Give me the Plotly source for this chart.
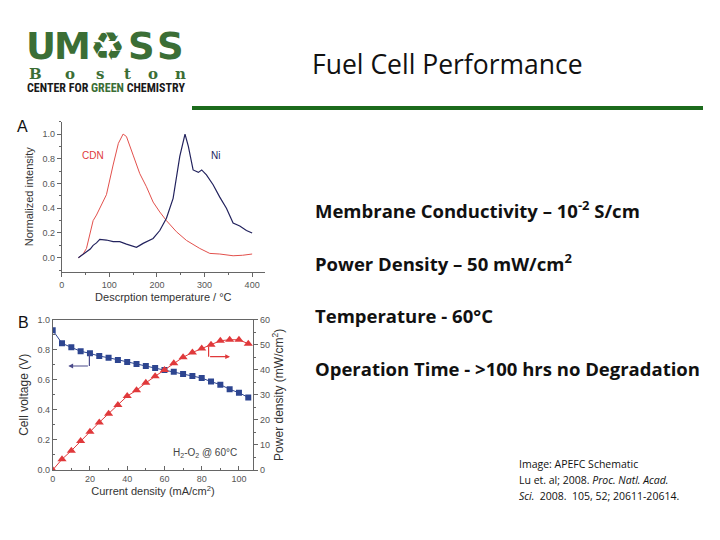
import plotly.graph_objects as go

# ---------------- Data: chart A (TPD) ----------------
cdn_temp = [35, 45, 52, 60, 66, 73, 80, 94, 108, 119, 129, 136, 150, 164, 178, 192, 206, 220, 241, 262, 290, 311, 332, 360, 380, 400]
cdn_int = [0.0, 0.03, 0.075, 0.2, 0.30, 0.345, 0.40, 0.51, 0.75, 0.925, 1.0, 0.98, 0.83, 0.68, 0.574, 0.45, 0.37, 0.30, 0.21, 0.14, 0.075, 0.035, 0.03, 0.016, 0.02, 0.03]
ni_temp = [35, 45, 52, 60, 66, 73, 80, 94, 108, 122, 136, 150, 157, 164, 171, 192, 206, 220, 234, 248, 255, 259, 266, 276, 287, 294, 304, 318, 332, 346, 360, 374, 388, 400]
ni_int = [0.0, 0.03, 0.05, 0.07, 0.10, 0.12, 0.148, 0.143, 0.13, 0.13, 0.11, 0.095, 0.084, 0.10, 0.116, 0.156, 0.22, 0.32, 0.48, 0.82, 0.95, 1.0, 0.90, 0.71, 0.69, 0.71, 0.67, 0.59, 0.49, 0.40, 0.28, 0.256, 0.22, 0.20]

# ---------------- Data: chart B (polarization) ----------------
current = [0, 5, 10, 15, 20, 25, 30, 35, 40, 45, 50, 55, 60, 65, 70, 75, 80, 85, 90, 95, 100, 105]
voltage = [0.93, 0.843, 0.816, 0.79, 0.776, 0.758, 0.747, 0.732, 0.718, 0.705, 0.692, 0.678, 0.665, 0.654, 0.639, 0.625, 0.612, 0.588, 0.568, 0.537, 0.514, 0.483]
power = [0, 4.3, 7.7, 11.6, 15.3, 19.0, 22.5, 25.9, 29.5, 31.8, 34.8, 37.4, 39.9, 42.6, 45.0, 46.9, 48.5, 50.0, 51.6, 52.0, 52.0, 50.4]

# ---------------- Slide text ----------------
title_text = "Fuel Cell Performance"
bullets = [
    "Membrane Conductivity – 10<sup>-2</sup> S/cm",
    "Power Density – 50 mW/cm<sup>2</sup>",
    "Temperature - 60°C",
    "Operation Time - >100 hrs no Degradation",
]
citation = [
    "Image: APEFC Schematic",
    "Lu et. al; 2008. <i>Proc. Natl. Acad.</i>",
    "<i>Sci.</i>  2008.  105, 52; 20611-20614.",
]
logo_letters = ["U", "M", "♻", "S", "S"]
logo_city = list("Boston")

W, H = 720, 540
OFF = 8  # page body margin offset
def px(x):
    return (x - OFF) / W
def py(y):
    return 1 - (y - OFF) / H

fig = go.Figure()

RED = "#e0393b"
NAVY = "#23235e"
BLUE = "#2d4590"

fig.add_trace(go.Scatter(x=cdn_temp, y=cdn_int, mode="lines", line=dict(color="#e2504c", width=1),
                         xaxis="x", yaxis="y", showlegend=False))
fig.add_trace(go.Scatter(x=ni_temp, y=ni_int, mode="lines", line=dict(color=NAVY, width=1.2),
                         xaxis="x", yaxis="y", showlegend=False))

fig.add_trace(go.Scatter(x=current, y=voltage, mode="lines+markers", line=dict(color=BLUE, width=1),
                         marker=dict(symbol="square", size=6, color=BLUE),
                         xaxis="x2", yaxis="y2", showlegend=False))
fig.add_trace(go.Scatter(x=current, y=power, mode="lines+markers", line=dict(color=RED, width=1),
                         marker=dict(symbol="triangle-up", size=8, color=RED),
                         xaxis="x2", yaxis="y3", showlegend=False))

tickfont = dict(family="Liberation Sans, Arial", size=9, color="#555")
titlefont = dict(family="Liberation Sans, Arial", size=11, color="#333")
axcol = "#666"

fig.update_layout(
    width=W, height=H, margin=dict(l=0, r=0, t=0, b=0, pad=0, autoexpand=False),
    paper_bgcolor="white", plot_bgcolor="white",
    xaxis=dict(domain=[px(61.7), px(265)], range=[0, 427], tickvals=[0, 100, 200, 300, 400],
               ticktext=["0", "100", "200", "300", "400"], automargin=False,
               showgrid=False, zeroline=False, showline=True, linecolor=axcol, linewidth=1,
               ticks="outside", ticklen=4, tickcolor=axcol, tickfont=tickfont,
               minor=dict(dtick=50, ticks="outside", ticklen=2, tickcolor=axcol),
               title=dict(text="Descrption temperature / °C", font=titlefont, standoff=4), anchor="y"),
    yaxis=dict(domain=[py(271.7), py(121.7)], range=[-0.113, 1.10], tickvals=[0, 0.2, 0.4, 0.6, 0.8, 1.0],
               tickformat=".1f", automargin=False,
               showgrid=False, zeroline=False, showline=True, linecolor=axcol, linewidth=1,
               ticks="outside", ticklen=4, tickcolor=axcol, tickfont=tickfont,
               minor=dict(dtick=0.1, ticks="outside", ticklen=2, tickcolor=axcol),
               title=dict(text="Normalized intensity", font=titlefont, standoff=6), anchor="x"),
    xaxis2=dict(domain=[px(52.7), px(253.3)], range=[0, 107.7], tickvals=[0, 20, 40, 60, 80, 100],
                automargin=False,
                showgrid=False, zeroline=False, showline=True, mirror=True, linecolor=axcol, linewidth=1,
                ticks="inside", ticklen=4, tickcolor=axcol, tickfont=tickfont,
                minor=dict(dtick=10, ticks="inside", ticklen=2, tickcolor=axcol),
                title=dict(text="Current density (mA/cm<sup>2</sup>)", font=titlefont, standoff=4), anchor="y2"),
    yaxis2=dict(domain=[py(470), py(319.7)], range=[0, 1.0], tickvals=[0, 0.2, 0.4, 0.6, 0.8, 1.0],
                tickformat=".1f", automargin=False,
                showgrid=False, zeroline=False, showline=True, linecolor=axcol, linewidth=1,
                ticks="inside", ticklen=4, tickcolor=axcol, tickfont=tickfont,
                minor=dict(dtick=0.1, ticks="inside", ticklen=2, tickcolor=axcol),
                title=dict(text="Cell voltage (V)", font=dict(family="Liberation Sans, Arial", size=12, color="#333"), standoff=6),
                anchor="x2"),
    yaxis3=dict(range=[0, 60], overlaying="y2", side="right", tickvals=[0, 10, 20, 30, 40, 50, 60],
                automargin=False,
                showgrid=False, zeroline=False, showline=True, linecolor=axcol, linewidth=1,
                ticks="outside", ticklen=4, tickcolor=axcol, tickfont=tickfont,
                minor=dict(dtick=5, ticks="outside", ticklen=2, tickcolor=axcol),
                title=dict(text="Power density (mW/cm<sup>2</sup>)", font=dict(family="Liberation Sans, Arial", size=12, color="#333"), standoff=4),
                anchor="x2"),
)

ann = []
def A(**kw):
    kw.setdefault("showarrow", False)
    kw.setdefault("xanchor", "center")
    kw.setdefault("yanchor", "middle")
    ann.append(kw)

# Chart A labels
A(x=66, y=0.83, xref="x", yref="y", text="CDN", font=dict(family="Liberation Sans, Arial", size=10, color=RED))
A(x=322, y=0.83, xref="x", yref="y", text="Ni", font=dict(family="Liberation Sans, Arial", size=10, color=NAVY))
A(x=px(22), y=py(127), xref="paper", yref="paper", text="A", font=dict(family="Liberation Sans, Arial", size=16, color="#111"))
A(x=px(23), y=py(322), xref="paper", yref="paper", text="B", font=dict(family="Liberation Sans, Arial", size=16, color="#111"))
# Chart B arrows and condition label
ann.append(dict(x=8.4, y=0.692, xref="x2", yref="y2", ax=19.7, ay=0.692, axref="x2", ayref="y2",
                text="", showarrow=True, arrowhead=2, arrowsize=0.8, arrowwidth=1.2, arrowcolor="#4a4a8a"))
ann.append(dict(x=95.2, y=0.754, xref="x2", yref="y2", ax=83.7, ay=0.754, axref="x2", ayref="y2",
                text="", showarrow=True, arrowhead=2, arrowsize=0.8, arrowwidth=1.2, arrowcolor=RED))
A(x=82, y=0.11, xref="x2", yref="y2", text="H<sub>2</sub>-O<sub>2</sub> @ 60°C",
  font=dict(family="Liberation Sans, Arial", size=10, color="#444"))

# Title
A(x=px(447), y=py(64), xref="paper", yref="paper", text=title_text,
  font=dict(family="Open Sans, Lato", size=26.5, color="#111"))
# Bullets
for i, b in enumerate(bullets):
    A(x=px(313), y=py(210 + 52.7 * i), xref="paper", yref="paper", text=b, xanchor="left",
      font=dict(family="Open Sans, Lato", size=18.5, color="#111", weight="bold"))
# Citation
for i, c in enumerate(citation):
    A(x=px(517), y=py(464 + 16 * i), xref="paper", yref="paper", text=c, xanchor="left", align="left",
      font=dict(family="Open Sans, Lato", size=10.5, color="#111"))

# Logo
GREEN = "#3b6e35"
for ch, xx in zip(logo_letters, [41, 72, 107, 141, 170]):
    A(x=px(xx), y=py(46), xref="paper", yref="paper", text=ch,
      font=dict(family="DejaVu Sans", size=37 if ch != "♻" else 39, color=GREEN, weight="bold"))
for ch, xx in zip(logo_city, [35, 70, 100, 127, 153, 180]):
    A(x=px(xx), y=py(74), xref="paper", yref="paper", text=ch,
      font=dict(family="DejaVu Serif, Liberation Serif", size=15, color=GREEN, weight="bold"))
A(x=px(106), y=py(87.5), xref="paper", yref="paper",
  text="CENTER FOR <span style='color:%s'>GREEN</span> CHEMISTRY" % GREEN,
  font=dict(family="Roboto Condensed, Liberation Sans Narrow, Roboto", size=12, color="#1a1a1a", weight="bold"))

fig.update_layout(annotations=ann)

shapes = [
    # green rule under title
    dict(type="line", xref="paper", yref="paper", x0=px(192), x1=px(703), y0=py(108), y1=py(108),
         line=dict(color="#1c6b1c", width=4)),
    # blue arrow vertical segment
    dict(type="line", xref="x2", yref="y2", x0=19.7, x1=19.7, y0=0.776, y1=0.692,
         line=dict(color="#4a4a8a", width=1.2)),
    # red arrow vertical segment
    dict(type="line", xref="x2", yref="y2", x0=83.7, x1=83.7, y0=0.82, y1=0.754,
         line=dict(color=RED, width=1.2)),
]
fig.update_layout(shapes=shapes)

fig.write_html("out.html")
